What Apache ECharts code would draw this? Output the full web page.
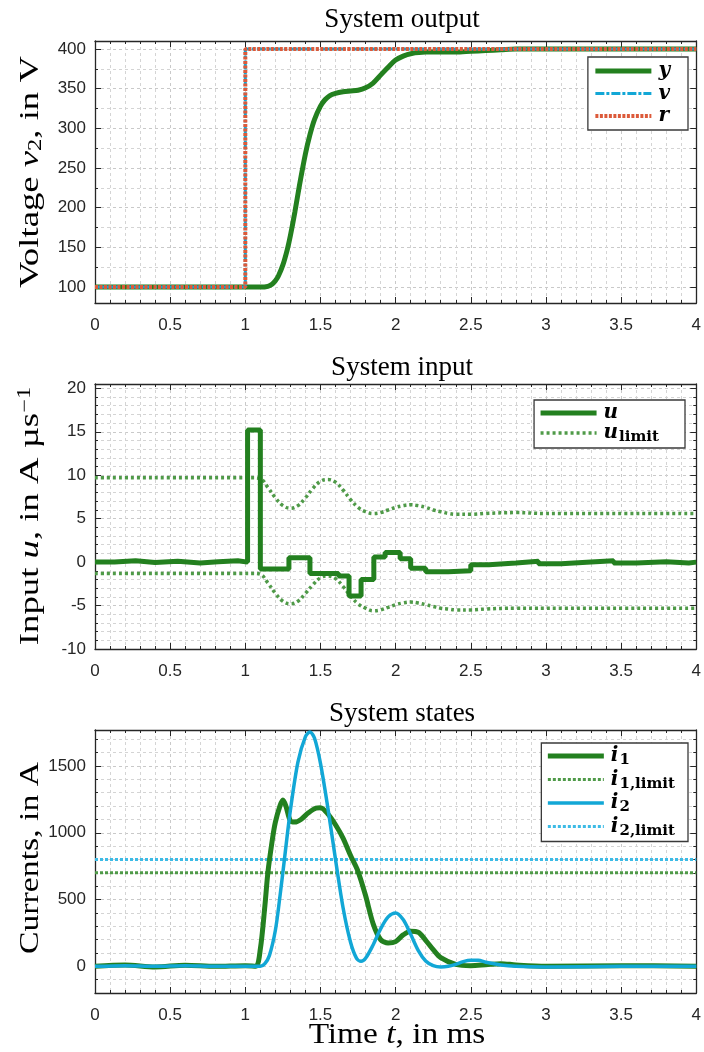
<!DOCTYPE html>
<html>
<head>
<meta charset="utf-8">
<script src="https://cdn.jsdelivr.net/npm/echarts@6/dist/echarts.min.js"></script>
<style>
  html, body { margin: 0; padding: 0; background: #fff; }
  #chart { width: 704px; height: 1052px; }
</style>
</head>
<body>
<div id="chart"></div>
<script>
// ---- Time axis ticks (ms) ----
const timeTicks = [0, 0.5, 1, 1.5, 2, 2.5, 3, 3.5, 4];

// ---- System output: reference r, filtered reference v, output y (V) ----
const refT = [0, 1, 1, 4];
const refV = [100, 100, 400, 400];
const outT = [0, 1.1, 1.15, 1.18, 1.2, 1.22, 1.25, 1.28, 1.3, 1.33, 1.36, 1.4, 1.43, 1.46, 1.5, 1.53, 1.56, 1.6, 1.65, 1.7, 1.75, 1.8, 1.85, 1.9, 1.95, 2.0, 2.05, 2.1, 2.2, 2.3, 2.4, 2.5, 2.6, 2.7, 2.8, 4.0];
const outY = [100, 100, 101, 104, 108, 114, 128, 148, 165, 195, 228, 268, 292, 311, 328, 336, 341, 344, 346, 347, 348, 351, 357, 367, 377, 386, 391, 394, 396, 396, 396, 397, 398, 399, 400, 400];

// ---- System input: u (A/us), held between samples ----
const inT = [0, 0.13, 0.27, 0.4, 0.55, 0.7, 0.82, 0.95, 1.015, 1.10, 1.29, 1.43, 1.62, 1.69, 1.77, 1.855, 1.93, 2.03, 2.1, 2.2, 2.35, 2.5, 2.62, 2.8, 2.95, 3.1, 3.3, 3.45, 3.6, 3.8, 3.95, 4.0];
const inU = [0.0, 0.15, -0.05, 0.1, -0.1, 0.05, 0.15, 0.0, 15.2, -0.8, 0.5, -1.3, -1.6, -3.9, -2.0, 0.6, 1.1, 0.4, -0.7, -1.1, -1.0, -0.3, -0.1, 0.1, -0.2, 0.0, 0.15, -0.1, 0.05, -0.1, 0.0, 0.0];

// ---- Input limits ----
const limT = [0, 1.05, 1.1, 1.15, 1.2, 1.25, 1.3, 1.35, 1.4, 1.45, 1.5, 1.55, 1.6, 1.65, 1.7, 1.75, 1.8, 1.85, 1.9, 1.95, 2.0, 2.05, 2.1, 2.15, 2.2, 2.25, 2.3, 2.35, 2.4, 2.5, 2.6, 2.8, 3.0, 4.0];
const limUp = [9.7, 9.7, 9.6, 8.6, 7.4, 6.5, 6.2, 6.5, 7.4, 8.5, 9.3, 9.5, 9.2, 8.3, 7.2, 6.3, 5.8, 5.6, 5.7, 6.0, 6.3, 6.5, 6.6, 6.5, 6.3, 6.0, 5.8, 5.6, 5.5, 5.5, 5.6, 5.7, 5.6, 5.6];
const limLo = [-1.3, -1.3, -1.4, -2.4, -3.6, -4.5, -4.8, -4.5, -3.6, -2.6, -1.8, -1.6, -1.9, -2.8, -3.9, -4.8, -5.3, -5.6, -5.5, -5.2, -4.9, -4.7, -4.6, -4.7, -4.9, -5.1, -5.3, -5.4, -5.5, -5.5, -5.4, -5.3, -5.3, -5.3];

// ---- System states: currents (A) ----
const i1T = [0, 0.2, 0.4, 0.6, 0.8, 1.0, 1.07, 1.1, 1.13, 1.15, 1.18, 1.2, 1.23, 1.25, 1.27, 1.3, 1.33, 1.37, 1.42, 1.47, 1.5, 1.55, 1.6, 1.65, 1.7, 1.75, 1.8, 1.85, 1.9, 1.95, 2.0, 2.05, 2.1, 2.15, 2.2, 2.25, 2.3, 2.4, 2.5, 2.6, 2.7, 2.8, 3.0, 3.5, 4.0];
const i1V = [0, 10, -5, 8, 0, 5, 0, 130, 450, 700, 950, 1080, 1200, 1245, 1200, 1090, 1080, 1100, 1150, 1185, 1188, 1140, 1060, 960, 830, 710, 530, 320, 200, 175, 185, 235, 262, 255, 195, 125, 65, 15, 5, 12, 20, 10, 0, 5, 0];
const i2T = [0, 0.2, 0.4, 0.6, 0.8, 1.0, 1.1, 1.13, 1.16, 1.2, 1.23, 1.26, 1.3, 1.35, 1.4, 1.43, 1.46, 1.5, 1.55, 1.6, 1.65, 1.7, 1.74, 1.77, 1.8, 1.85, 1.9, 1.95, 2.0, 2.05, 2.1, 2.15, 2.2, 2.25, 2.3, 2.35, 2.4, 2.45, 2.5, 2.55, 2.6, 2.7, 2.8, 3.0, 3.5, 4.0];
const i2V = [0, 5, 0, 5, 0, 0, 0, 20, 80, 270, 520, 800, 1170, 1530, 1720, 1755, 1710, 1520, 1180, 800, 440, 180, 60, 37, 60, 160, 280, 370, 400, 350, 240, 120, 40, 5, -5, 0, 15, 35, 45, 45, 30, 10, 0, -5, 0, 0];
const i1Limit = 700;
const i2Limit = 800;

// ---- Axis label values ----
const outTicks = [100, 150, 200, 250, 300, 350, 400];
const inTicks = [-10, -5, 0, 5, 10, 15, 20];
const stateTicks = [0, 500, 1000, 1500];

const pairs = (t, v) => t.map((x, k) => [x, v[k]]);

const GREEN = '#23801f';
const GREEN_L = '#4f9a48';
const CYAN = '#12a7d6';
const CYAN_L = '#3dbbe6';
const ORANGE = '#dc5a3a';
const INK = '#262626';
const SERIF = 'Liberation Serif';
const SANS = 'Liberation Sans';

const PLOT_L = 95, PLOT_R = 699;
const grids = [
  { left: PLOT_L, right: 704 - PLOT_R, top: 41, height: 262 },
  { left: PLOT_L, right: 704 - PLOT_R, top: 384, height: 265 },
  { left: PLOT_L, right: 704 - PLOT_R, top: 730, height: 263 }
];

const gridLine = { show: true, lineStyle: { color: '#c9c9c9', type: [3, 3], width: 1 } };
const minorLine = { show: true, lineStyle: { color: '#d4d4d4', type: [3, 3], width: 1 } };

function xAxes(g) {
  const base = {
    type: 'value', gridIndex: g, min: 0, max: 4, interval: 0.5,
    axisTick: { show: true, inside: true, length: 6, lineStyle: { color: INK, width: 1 } },
    minorTick: { show: true, splitNumber: 5, length: 3, lineStyle: { color: INK, width: 1 } },
    axisLine: { show: true, onZero: false, lineStyle: { color: INK, width: 1.3 } }
  };
  return [
    Object.assign({}, base, {
      position: 'bottom',
      splitLine: gridLine, minorSplitLine: minorLine,
      axisLabel: {
        color: INK, fontFamily: SANS, fontSize: 17, margin: 14,
        formatter: v => (timeTicks.indexOf(v) >= 0 ? String(v) : '')
      }
    }),
    Object.assign({}, base, {
      position: 'top', splitLine: { show: false }, minorSplitLine: { show: false },
      axisLabel: { show: false }
    })
  ];
}

// min/max fixed; the step comes from splitNumber so ticks land on round values
function yAxes(g, min, max, split, minorSplit, ticks) {
  const base = {
    type: 'value', gridIndex: g, min: min, max: max, splitNumber: split,
    axisTick: { show: true, inside: true, length: 6, lineStyle: { color: INK, width: 1 } },
    minorTick: { show: true, splitNumber: minorSplit, length: 3, lineStyle: { color: INK, width: 1 } },
    axisLine: { show: true, onZero: false, lineStyle: { color: INK, width: 1.3 } }
  };
  return [
    Object.assign({}, base, {
      position: 'left',
      splitLine: gridLine, minorSplitLine: minorLine,
      axisLabel: {
        color: INK, fontFamily: SANS, fontSize: 17, margin: 9,
        formatter: v => (ticks.indexOf(v) >= 0 ? String(v) : '')
      }
    }),
    Object.assign({}, base, {
      position: 'right', splitLine: { show: false }, minorSplitLine: { show: false },
      axisLabel: { show: false }
    })
  ];
}

const legendRich = {
  m: { fontFamily: 'DejaVu Serif', fontStyle: 'italic', fontWeight: 'bold', fontSize: 20, lineHeight: 16, color: '#000' },
  s: { fontFamily: 'DejaVu Serif', fontWeight: 'bold', fontSize: 15, color: '#000', padding: [9, 0, 0, 1] }
};
const legendText = {
  y: '{m|y}', v: '{m|v}', r: '{m|r}', u: '{m|u}', u_limit: '{m|u}{s|limit}',
  i1: '{m|i}{s|1}', i1_limit: '{m|i}{s|1,limit}', i2: '{m|i}{s|2}', i2_limit: '{m|i}{s|2,limit}'
};

function legend(names, right, top, gap, padding) {
  return {
    data: names, orient: 'vertical', right: right, top: top,
    itemWidth: 56, itemHeight: 14, itemGap: gap,
    padding: padding,
    backgroundColor: '#fff', borderColor: '#3a3a3a', borderWidth: 1.3, borderRadius: 0,
    selectedMode: false,
    itemStyle: { opacity: 0, borderWidth: 0 },
    lineStyle: { width: 'inherit', type: 'inherit', opacity: 1 },
    formatter: n => legendText[n],
    textStyle: { rich: legendRich, padding: [0, 0, 0, 2] }
  };
}

function line(name, xi, yi, data, color, width, type, extra) {
  return Object.assign({
    name: name, type: 'line', xAxisIndex: xi, yAxisIndex: yi, data: data,
    showSymbol: false, symbol: 'none', animation: false,
    lineStyle: { color: color, width: width, type: type, cap: 'butt' },
    itemStyle: { color: color }
  }, extra || {});
}

// axis titles, with the glyphs drawn a little elongated along the reading direction
function yName(rich, text, cy, stretch) {
  return {
    type: 'text', x: 31, y: cy, rotation: Math.PI / 2, scaleX: stretch, scaleY: 1,
    style: {
      text: text, fill: '#000', font: '27px "Liberation Serif"',
      align: 'center', verticalAlign: 'middle', rich: rich
    }, z: 10
  };
}
const nameRich = {
  i: { fontFamily: SERIF, fontStyle: 'italic', fontSize: 27, color: '#000' },
  n: { fontFamily: SERIF, fontSize: 27, color: '#000' },
  sub: { fontFamily: SERIF, fontSize: 18, color: '#000', padding: [10, 0, 0, 0] },
  sup: { fontFamily: SERIF, fontSize: 18, color: '#000', padding: [0, 0, 12, 0] }
};

const option = {
  backgroundColor: '#fff',
  animation: false,
  title: [
    { text: 'System output', left: 397, top: 1, textAlign: 'center',
      textStyle: { fontFamily: SERIF, fontSize: 27, fontWeight: 'normal', color: '#000' } },
    { text: 'System input', left: 397, top: 349, textAlign: 'center',
      textStyle: { fontFamily: SERIF, fontSize: 27, fontWeight: 'normal', color: '#000' } },
    { text: 'System states', left: 397, top: 695, textAlign: 'center',
      textStyle: { fontFamily: SERIF, fontSize: 27, fontWeight: 'normal', color: '#000' } }
  ],
  graphic: [
    yName(nameRich, '{n|Voltage }{i|v}{sub|2}{n|, in V}', 172, 1.36),
    yName(nameRich, '{n|Input }{i|u}{n|, in A µs}{sup|−1}', 516, 1.36),
    yName(nameRich, '{n|Currents, in A}', 858, 1.25),
    {
      type: 'text', x: (PLOT_L + PLOT_R) / 2, y: 1035, scaleX: 1.15,
      style: {
        text: '{n|Time }{i|t}{n|, in ms}', fill: '#000', font: '29px "Liberation Serif"',
        align: 'center', verticalAlign: 'middle',
        rich: {
          n: { fontFamily: SERIF, fontSize: 29, color: '#000' },
          i: { fontFamily: SERIF, fontStyle: 'italic', fontSize: 29, color: '#000' }
        }
      }, z: 10
    }
  ],
  grid: grids,
  xAxis: [].concat(xAxes(0), xAxes(1), xAxes(2)),
  yAxis: [].concat(
    yAxes(0, 80, 410, 5, 2, outTicks),
    yAxes(1, -10, 20.5, 5, 5, inTicks),
    yAxes(2, -200, 1770, 4, 5, stateTicks)
  ),
  legend: [
    legend(['y', 'v', 'r'], 16, 57, 2.5, [4, 18, 4, 5]),
    legend(['u', 'u_limit'], 19, 400, 0, [3, 26, 3, 4]),
    legend(['i1', 'i1_limit', 'i2', 'i2_limit'], 16, 743, 1.5, [3, 13, 3, 4])
  ],
  series: [
    line('y', 0, 0, pairs(outT, outY), GREEN, 5, 'solid', { smooth: 0.3, z: 2 }),
    line('v', 0, 0, pairs(refT, refV), CYAN, 3, [9, 2, 3, 2], { z: 3 }),
    line('r', 0, 0, pairs(refT, refV), ORANGE, 4, [3, 1.5], { z: 4 }),

    line('u', 2, 2, pairs(inT, inU), GREEN, 5, 'solid', { step: 'end', z: 3 }),
    line('u_limit', 2, 2, pairs(limT, limUp), GREEN_L, 3.5, [3, 3], { smooth: 0.4, z: 2 }),
    line('u_limit', 2, 2, pairs(limT, limLo), GREEN_L, 3.5, [3, 3], { smooth: 0.4, z: 2 }),

    line('i1', 4, 4, pairs(i1T, i1V), GREEN, 5, 'solid', { smooth: 0.3, z: 3 }),
    line('i1_limit', 4, 4, [[0, i1Limit], [4, i1Limit]], GREEN_L, 3, [3, 2], { z: 2 }),
    line('i2', 4, 4, pairs(i2T, i2V), CYAN, 3.5, 'solid', { smooth: 0.3, z: 4 }),
    line('i2_limit', 4, 4, [[0, i2Limit], [4, i2Limit]], CYAN_L, 3, [3, 2], { z: 2 })
  ]
};

const chart = echarts.init(document.getElementById('chart'), null, { renderer: 'canvas' });
chart.setOption(option);
</script>
</body>
</html>
